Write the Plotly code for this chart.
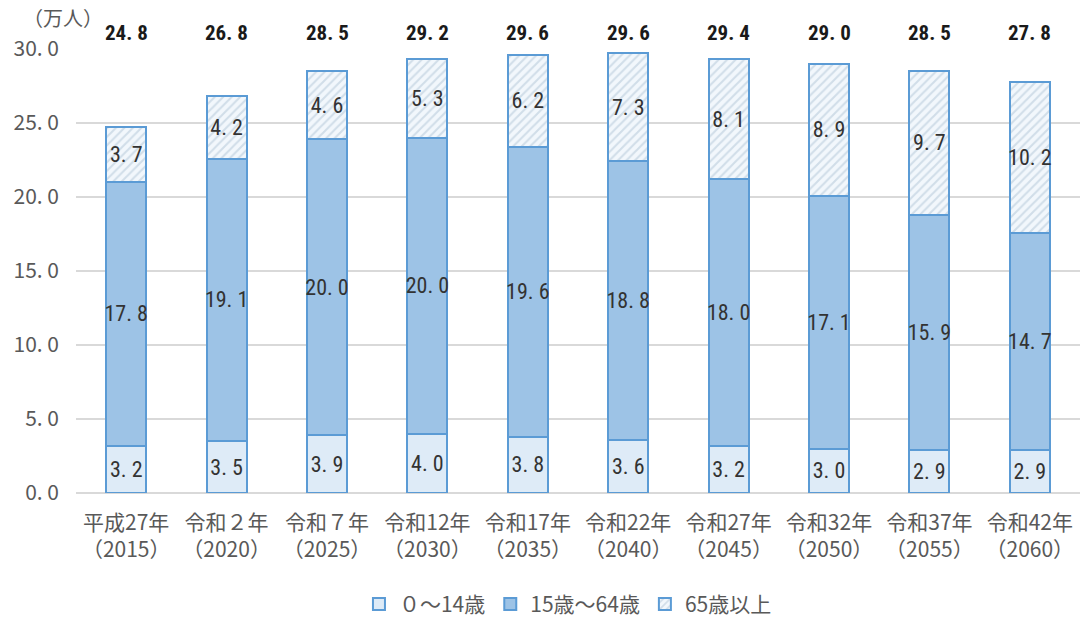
import plotly.graph_objects as go

categories = ["平成27年<br>（2015）", "令和２年<br>（2020）", "令和７年<br>（2025）", "令和12年<br>（2030）",
              "令和17年<br>（2035）", "令和22年<br>（2040）", "令和27年<br>（2045）", "令和32年<br>（2050）",
              "令和37年<br>（2055）", "令和42年<br>（2060）"]
age0_14 = [3.2, 3.5, 3.9, 4.0, 3.8, 3.6, 3.2, 3.0, 2.9, 2.9]
age15_64 = [17.8, 19.1, 20.0, 20.0, 19.6, 18.8, 18.0, 17.1, 15.9, 14.7]
age65 = [3.7, 4.2, 4.6, 5.3, 6.2, 7.3, 8.1, 8.9, 9.7, 10.2]
totals = [24.8, 26.8, 28.5, 29.2, 29.6, 29.6, 29.4, 29.0, 28.5, 27.8]
series_names = ["０～14歳", "15歳～64歳", "65歳以上"]
y_ticks = [0, 5, 10, 15, 20, 25, 30]
y_ticktext = ["0. 0", "5. 0", "10. 0", "15. 0", "20. 0", "25. 0", "30. 0"]

COND = "Roboto Condensed, sans-serif"
JP = "Noto Sans CJK JP, sans-serif"
BORDER = "#5B9BD5"

def fmt(v):
    return f"{v:.1f}".replace(".", ". ")

fig = go.Figure()
common = dict(width=0.4, textposition="inside", insidetextanchor="middle",
              textangle=0, constraintext="none",
              textfont=dict(family=COND, size=22, color="#333333"))
fig.add_bar(x=categories, y=age0_14, name=series_names[0], text=[fmt(v) for v in age0_14],
            marker=dict(color="#DEEBF7", line=dict(color=BORDER, width=2)), **common)
fig.add_bar(x=categories, y=age15_64, name=series_names[1], text=[fmt(v) for v in age15_64],
            marker=dict(color="#9DC3E6", line=dict(color=BORDER, width=2)), **common)
fig.add_bar(x=categories, y=age65, name=series_names[2], text=[fmt(v) for v in age65],
            marker=dict(color="#F4F8FC", line=dict(color=BORDER, width=2),
                        pattern=dict(shape="/", fgcolor="#AFC4D6", bgcolor="#F2F7FC",
                                     size=6, solidity=0.35)), **common)

for c, t in zip(categories, totals):
    fig.add_annotation(x=c, y=1.036, xref="x", yref="paper", text="<b>" + fmt(t) + "</b>",
                       showarrow=False, yanchor="middle",
                       font=dict(family=COND, size=21, color="#1a1a1a"))

fig.add_annotation(x=-0.055, y=1.07, xref="paper", yref="paper", text="（万人）",
                   showarrow=False, xanchor="left", yanchor="middle",
                   font=dict(family=JP, size=20, color="#595959"))

fig.update_layout(
    width=1080, height=618,
    barmode="stack", bargap=0.6,
    plot_bgcolor="white", paper_bgcolor="white",
    margin=dict(l=76, r=0, t=49, b=125, autoexpand=False),
    font=dict(family=JP, color="#595959"),
    showlegend=True,
    legend=dict(orientation="h", x=0.49, xanchor="center", yref="container", y=0.022, yanchor="middle",
                traceorder="normal", font=dict(family=JP, size=21, color="#595959"),
                itemwidth=30, itemsizing="constant"),
    xaxis=dict(tickfont=dict(family=JP, size=21, color="#595959"), showline=False,
               ticks="", ticklabelstandoff=15),
    yaxis=dict(range=[0, 30], tickvals=y_ticks, ticktext=y_ticktext,
               tickfont=dict(family=JP, size=21, color="#595959"),
               showgrid=True, gridcolor="#D9D9D9", gridwidth=1.5,
               zeroline=True, zerolinecolor="#D9D9D9", zerolinewidth=1.5,
               showline=False, ticks="", ticklabelstandoff=16),
)
fig.write_html("out.html")
